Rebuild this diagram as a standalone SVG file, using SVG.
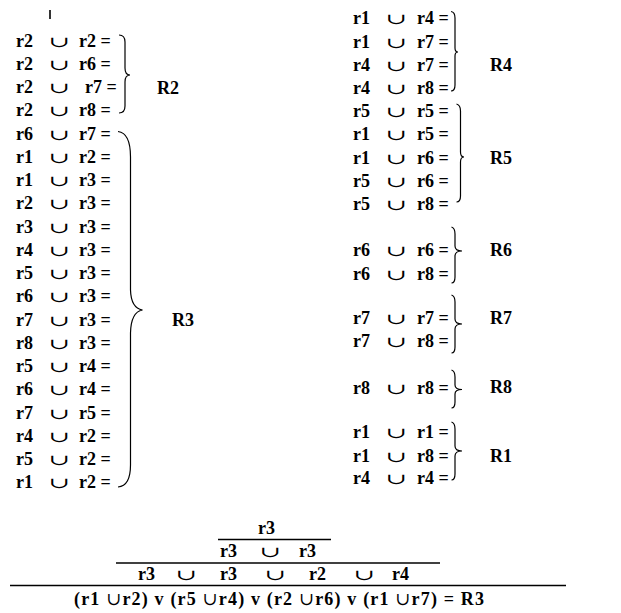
<svg xmlns="http://www.w3.org/2000/svg" width="621" height="613" viewBox="0 0 621 613">
<style>
text{font-family:"Liberation Serif","Times New Roman",serif;font-weight:bold;font-size:18px;fill:#000}
.u{font-family:"DejaVu Serif","Liberation Serif",serif;font-weight:normal;font-style:italic;font-size:15px;text-anchor:middle}
.ui{font-family:"DejaVu Serif","Liberation Serif",serif;font-weight:normal;font-style:italic;font-size:18px}
.br{fill:none;stroke:#000;stroke-width:1.2}
.rule{stroke:#000;stroke-width:1.5}
.mark{stroke:#000;stroke-width:1.6}
</style>
<line class="mark" x1="50" y1="10" x2="50" y2="19"/>
<g id="left-rows">
<g id="L0"><text x="16" y="46.6">r2</text><text class="u" transform="translate(59,46.6) scale(1.7,1)">∪</text><text x="79" y="46.6">r2 =</text></g>
<g id="L1"><text x="16" y="69.9">r2</text><text class="u" transform="translate(59,69.9) scale(1.7,1)">∪</text><text x="79" y="69.9">r6 =</text></g>
<g id="L2"><text x="16" y="93.1">r2</text><text class="u" transform="translate(59,93.1) scale(1.7,1)">∪</text><text x="85" y="93.1">r7 =</text></g>
<g id="L3"><text x="16" y="116.4">r2</text><text class="u" transform="translate(59,116.4) scale(1.7,1)">∪</text><text x="79" y="116.4">r8 =</text></g>
<g id="L4"><text x="16" y="139.6">r6</text><text class="u" transform="translate(59,139.6) scale(1.7,1)">∪</text><text x="79" y="139.6">r7 =</text></g>
<g id="L5"><text x="16" y="162.9">r1</text><text class="u" transform="translate(59,162.9) scale(1.7,1)">∪</text><text x="79" y="162.9">r2 =</text></g>
<g id="L6"><text x="16" y="186.1">r1</text><text class="u" transform="translate(59,186.1) scale(1.7,1)">∪</text><text x="79" y="186.1">r3 =</text></g>
<g id="L7"><text x="16" y="209.4">r2</text><text class="u" transform="translate(59,209.4) scale(1.7,1)">∪</text><text x="79" y="209.4">r3 =</text></g>
<g id="L8"><text x="16" y="232.6">r3</text><text class="u" transform="translate(59,232.6) scale(1.7,1)">∪</text><text x="79" y="232.6">r3 =</text></g>
<g id="L9"><text x="16" y="255.9">r4</text><text class="u" transform="translate(59,255.9) scale(1.7,1)">∪</text><text x="79" y="255.9">r3 =</text></g>
<g id="L10"><text x="16" y="279.1">r5</text><text class="u" transform="translate(59,279.1) scale(1.7,1)">∪</text><text x="79" y="279.1">r3 =</text></g>
<g id="L11"><text x="16" y="302.4">r6</text><text class="u" transform="translate(59,302.4) scale(1.7,1)">∪</text><text x="79" y="302.4">r3 =</text></g>
<g id="L12"><text x="16" y="325.6">r7</text><text class="u" transform="translate(59,325.6) scale(1.7,1)">∪</text><text x="79" y="325.6">r3 =</text></g>
<g id="L13"><text x="16" y="348.9">r8</text><text class="u" transform="translate(59,348.9) scale(1.7,1)">∪</text><text x="79" y="348.9">r3 =</text></g>
<g id="L14"><text x="16" y="372.1">r5</text><text class="u" transform="translate(59,372.1) scale(1.7,1)">∪</text><text x="79" y="372.1">r4 =</text></g>
<g id="L15"><text x="16" y="395.4">r6</text><text class="u" transform="translate(59,395.4) scale(1.7,1)">∪</text><text x="79" y="395.4">r4 =</text></g>
<g id="L16"><text x="16" y="418.6">r7</text><text class="u" transform="translate(59,418.6) scale(1.7,1)">∪</text><text x="79" y="418.6">r5 =</text></g>
<g id="L17"><text x="16" y="441.9">r4</text><text class="u" transform="translate(59,441.9) scale(1.7,1)">∪</text><text x="79" y="441.9">r2 =</text></g>
<g id="L18"><text x="16" y="465.1">r5</text><text class="u" transform="translate(59,465.1) scale(1.7,1)">∪</text><text x="79" y="465.1">r2 =</text></g>
<g id="L19"><text x="16" y="488.4">r1</text><text class="u" transform="translate(59,488.4) scale(1.7,1)">∪</text><text x="79" y="488.4">r2 =</text></g>
</g>
<g id="right-rows">
<g id="Q0"><text x="353" y="24.3">r1</text><text class="u" transform="translate(396,24.3) scale(1.7,1)">∪</text><text x="417" y="24.3">r4 =</text></g>
<g id="Q1"><text x="353" y="47.5">r1</text><text class="u" transform="translate(396,47.5) scale(1.7,1)">∪</text><text x="417" y="47.5">r7 =</text></g>
<g id="Q2"><text x="353" y="70.7">r4</text><text class="u" transform="translate(396,70.7) scale(1.7,1)">∪</text><text x="417" y="70.7">r7 =</text></g>
<g id="Q3"><text x="353" y="93.9">r4</text><text class="u" transform="translate(396,93.9) scale(1.7,1)">∪</text><text x="417" y="93.9">r8 =</text></g>
<g id="Q4"><text x="353" y="117.1">r5</text><text class="u" transform="translate(396,117.1) scale(1.7,1)">∪</text><text x="417" y="117.1">r5 =</text></g>
<g id="Q5"><text x="353" y="140.3">r1</text><text class="u" transform="translate(396,140.3) scale(1.7,1)">∪</text><text x="417" y="140.3">r5 =</text></g>
<g id="Q6"><text x="353" y="163.5">r1</text><text class="u" transform="translate(396,163.5) scale(1.7,1)">∪</text><text x="417" y="163.5">r6 =</text></g>
<g id="Q7"><text x="353" y="186.7">r5</text><text class="u" transform="translate(396,186.7) scale(1.7,1)">∪</text><text x="417" y="186.7">r6 =</text></g>
<g id="Q8"><text x="353" y="209.9">r5</text><text class="u" transform="translate(396,209.9) scale(1.7,1)">∪</text><text x="417" y="209.9">r8 =</text></g>
<g id="Q9"><text x="353" y="256.3">r6</text><text class="u" transform="translate(396,256.3) scale(1.7,1)">∪</text><text x="417" y="256.3">r6 =</text></g>
<g id="Q10"><text x="353" y="279.5">r6</text><text class="u" transform="translate(396,279.5) scale(1.7,1)">∪</text><text x="417" y="279.5">r8 =</text></g>
<g id="Q11"><text x="353" y="323.6">r7</text><text class="u" transform="translate(396,323.6) scale(1.7,1)">∪</text><text x="417" y="323.6">r7 =</text></g>
<g id="Q12"><text x="353" y="347.4">r7</text><text class="u" transform="translate(396,347.4) scale(1.7,1)">∪</text><text x="417" y="347.4">r8 =</text></g>
<g id="Q13"><text x="353" y="393.7">r8</text><text class="u" transform="translate(396,393.7) scale(1.7,1)">∪</text><text x="417" y="393.7">r8 =</text></g>
<g id="Q14"><text x="353" y="437.7">r1</text><text class="u" transform="translate(396,437.7) scale(1.7,1)">∪</text><text x="417" y="437.7">r1 =</text></g>
<g id="Q15"><text x="353" y="461.7">r1</text><text class="u" transform="translate(396,461.7) scale(1.7,1)">∪</text><text x="417" y="461.7">r8 =</text></g>
<g id="Q16"><text x="353" y="484.3">r4</text><text class="u" transform="translate(396,484.3) scale(1.7,1)">∪</text><text x="417" y="484.3">r4 =</text></g>
</g>
<g id="braces">
<path class="br" d="M119,35 Q125,35 125,42 L125,68 Q125,75 130,75 Q125,75 125,82 L125,106 Q125,113 119,113"/>
<path class="br" d="M118,131.5 Q130.5,133 130.5,157 L130.5,290 Q131,308 142.5,310 Q131,312 130.5,333 L130.5,465 Q130.5,486 118,487"/>
<path class="br" d="M451,11.5 Q455,12 455,18 L455,48 Q455,52 458,52 Q455,52 455,56 L455,85 Q455,91 451,91"/>
<path class="br" d="M456.5,104 Q460.5,105 460.5,111 L460.5,152 Q460.5,157 464,157 Q460.5,157 460.5,162 L460.5,196 Q460.5,202 456.5,202"/>
<path class="br" d="M451.5,227 Q455,228 455,234 L455,246 Q455,251 462,251 Q455,251 455,256 L455,277 Q455,283 451.5,283"/>
<path class="br" d="M451.5,295 Q455,296 455,302 L455,319 Q455,324 462,324 Q455,324 455,329 L455,347 Q455,353 451.5,353"/>
<path class="br" d="M451.5,370 Q455,371 455,377 L455,385 Q455,389.5 462,389.5 Q455,389.5 455,394 L455,402 Q455,408 451.5,408"/>
<path class="br" d="M451.5,422 Q455,423 455,429 L455,446 Q455,451 462,451 Q455,451 455,456 L455,474 Q455,480 451.5,480"/>
</g>
<g id="labels">
<text id="R2" x="157" y="94">R2</text>
<text id="R3" x="172" y="326">R3</text>
<text id="R4" x="490" y="71">R4</text>
<text id="R5" x="490" y="164">R5</text>
<text id="R6" x="490" y="256">R6</text>
<text id="R7" x="490" y="324">R7</text>
<text id="R8" x="490" y="393">R8</text>
<text id="R1" x="490" y="462">R1</text>
</g>
<g id="derivation">
<text x="258" y="534">r3</text>
<line class="rule" x1="218" y1="539.5" x2="331" y2="539.5"/>
<text x="220" y="557">r3</text><text class="u" transform="translate(270,557) scale(1.7,1)">∪</text><text x="299" y="557">r3</text>
<line class="rule" x1="116" y1="563" x2="440" y2="563"/>
<text x="138" y="580">r3</text><text class="u" transform="translate(186,580) scale(1.7,1)">∪</text><text x="220" y="580">r3</text><text class="u" transform="translate(275,580) scale(1.7,1)">∪</text><text x="309" y="580">r2</text><text class="u" transform="translate(364,580) scale(1.7,1)">∪</text><text x="392" y="580">r4</text>
<line class="rule" x1="10" y1="585.5" x2="566" y2="585.5"/>
<text x="74" y="605" textLength="410" lengthAdjust="spacing">(r1 <tspan class="ui">∪</tspan>r2) v (r5 <tspan class="ui">∪</tspan>r4) v (r2 <tspan class="ui">∪</tspan>r6) v (r1 <tspan class="ui">∪</tspan>r7)  = R3</text>
</g>
</svg>
